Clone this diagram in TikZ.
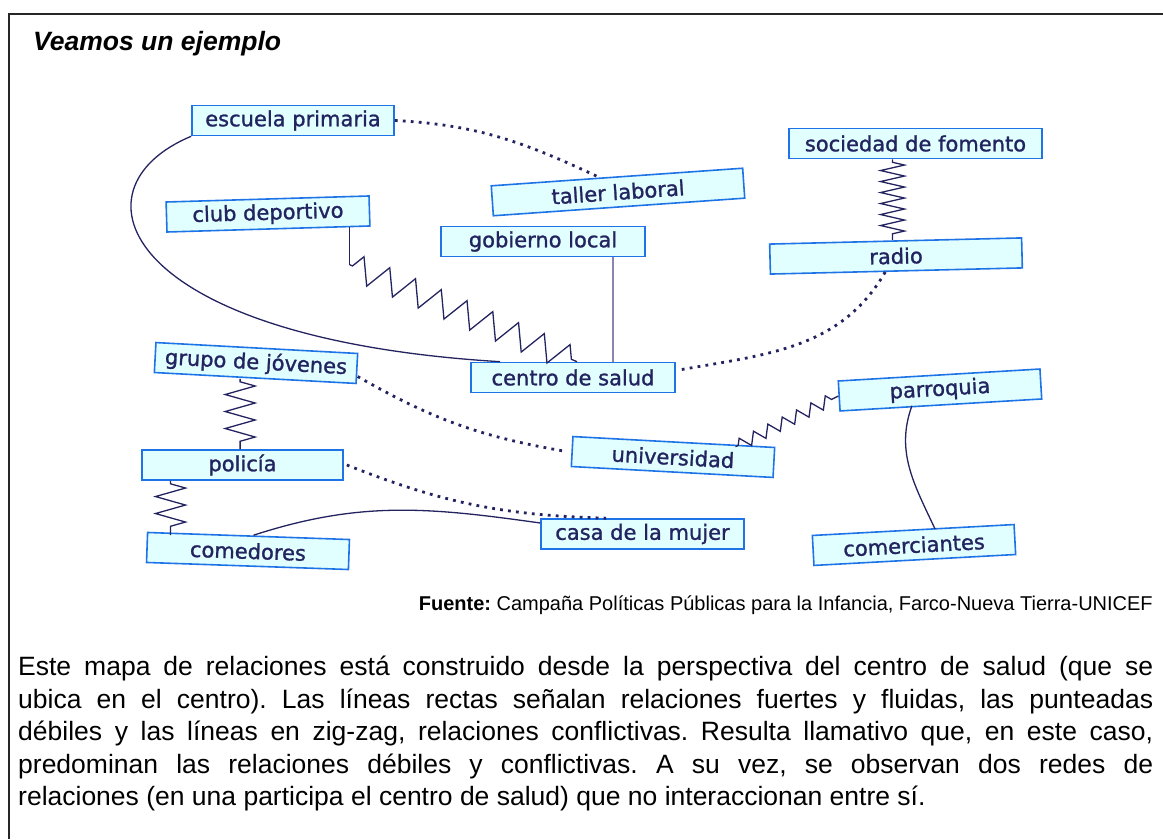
\documentclass[tikz,border=0pt]{standalone}
\usepackage{fontspec}
\setmainfont{Liberation Sans}
\newfontfamily\cajafont[FakeBold=1.2]{DejaVu Sans}
\usetikzlibrary{decorations.pathmorphing}
\frenchspacing
\definecolor{bordeazul}{RGB}{30,115,230}
\definecolor{fondocaja}{RGB}{225,255,255}
\definecolor{tinta}{RGB}{35,35,95}
\definecolor{lineagris}{RGB}{140,132,175}
\tikzset{
	caja/.style={draw=bordeazul, fill=fondocaja, line width=1.6pt, minimum height=30pt, inner sep=0pt, text=tinta, font=\cajafont\fontsize{21}{21}\selectfont},
	fuerte/.style={draw=tinta, line width=1.3pt},
	fuertegris/.style={draw=lineagris, line width=1.8pt},
	debil/.style={draw=tinta, line width=2.8pt, dash pattern=on 2.8pt off 5.2pt},
	conflicto/.style 2 args={draw=tinta, line width=1.3pt, decorate, decoration={zigzag, segment length=#1, amplitude=#2, pre length=3pt, post length=3pt}}
}
\begin{document}
\begin{tikzpicture}[x=1pt, y=1pt]
	\useasboundingbox (0,0) rectangle (1163,839);
	\draw[line width=2pt, black!85] (1163,825) -- (9,825) -- (9,0);
	\node[anchor=base west, inner sep=0pt, font=\bfseries\itshape\fontsize{26.5}{30}\selectfont] (titulo) at (33,788) {Veamos un ejemplo};

	\node[caja, minimum width=202pt] (escuela) at (293,718.5) {escuela primaria};
	\node[caja, minimum width=252pt, rotate=4] (taller) at (618,647) {taller laboral};
	\node[caja, minimum width=203pt, rotate=1.7] (club) at (268,625) {club deportivo};
	\node[caja, minimum width=204pt] (gobierno) at (543,597.5) {gobierno local};
	\node[caja, minimum width=204pt] (salud) at (573,461.5) {centro de salud};
	\node[caja, minimum width=253pt] (fomento) at (915.5,695.5) {sociedad de fomento};
	\node[caja, minimum width=252pt, rotate=1.4] (radio) at (896,583) {radio};
	\node[caja, minimum width=202pt, rotate=3.4] (parroquia) at (940,449) {parroquia};
	\node[caja, minimum width=202pt, rotate=-3.1] (universidad) at (673,382) {universidad};
	\node[caja, minimum width=203pt] (mujer) at (642.5,305) {casa de la mujer};
	\node[caja, minimum width=202pt, rotate=3.1] (comerciantes) at (914,294) {comerciantes};
	\node[caja, minimum width=202pt, rotate=-3.1] (jovenes) at (256,476) {grupo de jóvenes};
	\node[caja, minimum width=201pt] (policia) at (242.5,374) {policía};
	\node[caja, minimum width=202pt, rotate=-2] (comedores) at (248,288) {comedores};

	\draw[debil] (escuela.east) to[out=-3, in=155] ([xshift=-20pt]taller.north);
	\draw[fuerte] (escuela.south west) .. controls +(-125,-52) and +(-380,23) .. ([xshift=30pt]salud.north west);
	\draw[fuerte] ([xshift=-21pt]club.south east) -- ++(0,-38) coordinate (quiebre);
	\draw[conflicto={28pt}{13pt}] (quiebre) -- ([xshift=4pt]salud.north);
	\coordinate (bajada) at ([xshift=-33pt]gobierno.south east);
	\draw[fuertegris] (bajada) -- (bajada |- salud.north);
	\coordinate (resorte) at ([xshift=-23pt]fomento.south);
	\draw[conflicto={11pt}{12pt}] (resorte) -- (resorte |- radio.north);
	\draw[debil] ([xshift=6pt,yshift=8pt]salud.east) to[out=10, in=240] ([xshift=-11pt]radio.south);
	\draw[debil] ([yshift=-8pt]jovenes.east) to[bend right=10] ([xshift=-5pt]universidad.west);
	\coordinate (joven) at ([xshift=-15pt]jovenes.south);
	\draw[conflicto={17pt}{15pt}] (joven) -- (joven |- policia.north);
	\draw[debil] ([xshift=3pt]policia.east) to[bend right=10] ([xshift=66pt]mujer.north west);
	\coordinate (guardia) at ([xshift=-72pt]policia.south);
	\draw[conflicto={17pt}{15pt}] (guardia) -- (guardia |- comedores.north);
	\draw[fuerte] ([xshift=5pt]comedores.north) to[out=18, in=172] ([yshift=11pt]mujer.west);
	\draw[conflicto={16pt}{6pt}] ([xshift=-40pt]universidad.north east) -- (parroquia.west);
	\draw[fuerte] ([xshift=-29pt]parroquia.south) to[out=250, in=115] ([xshift=22pt]comerciantes.north);

	\node[anchor=base east, inner sep=0pt, font=\fontsize{20}{24}\selectfont] (fuente) at (1153,228) {\textbf{Fuente:} Campaña Políticas Públicas para la Infancia, Farco-Nueva Tierra-UNICEF};
	\node[anchor=north west, inner sep=0pt, text width=1135pt, align=justify, font=\fontsize{26.5}{32.5}\selectfont] (parrafo) at (18,183) {\hyphenpenalty=10000 \tolerance=10000 Este mapa de relaciones está construido desde la perspectiva del centro de salud (que se\linebreak ubica en el centro). Las líneas rectas señalan relaciones fuertes y fluidas, las punteadas\linebreak débiles y las líneas en zig-zag, relaciones conflictivas. Resulta llamativo que, en este caso,\linebreak predominan las relaciones débiles y conflictivas. A su vez, se observan dos redes de\linebreak relaciones (en una participa el centro de salud) que no interaccionan entre sí.};
\end{tikzpicture}
\end{document}
